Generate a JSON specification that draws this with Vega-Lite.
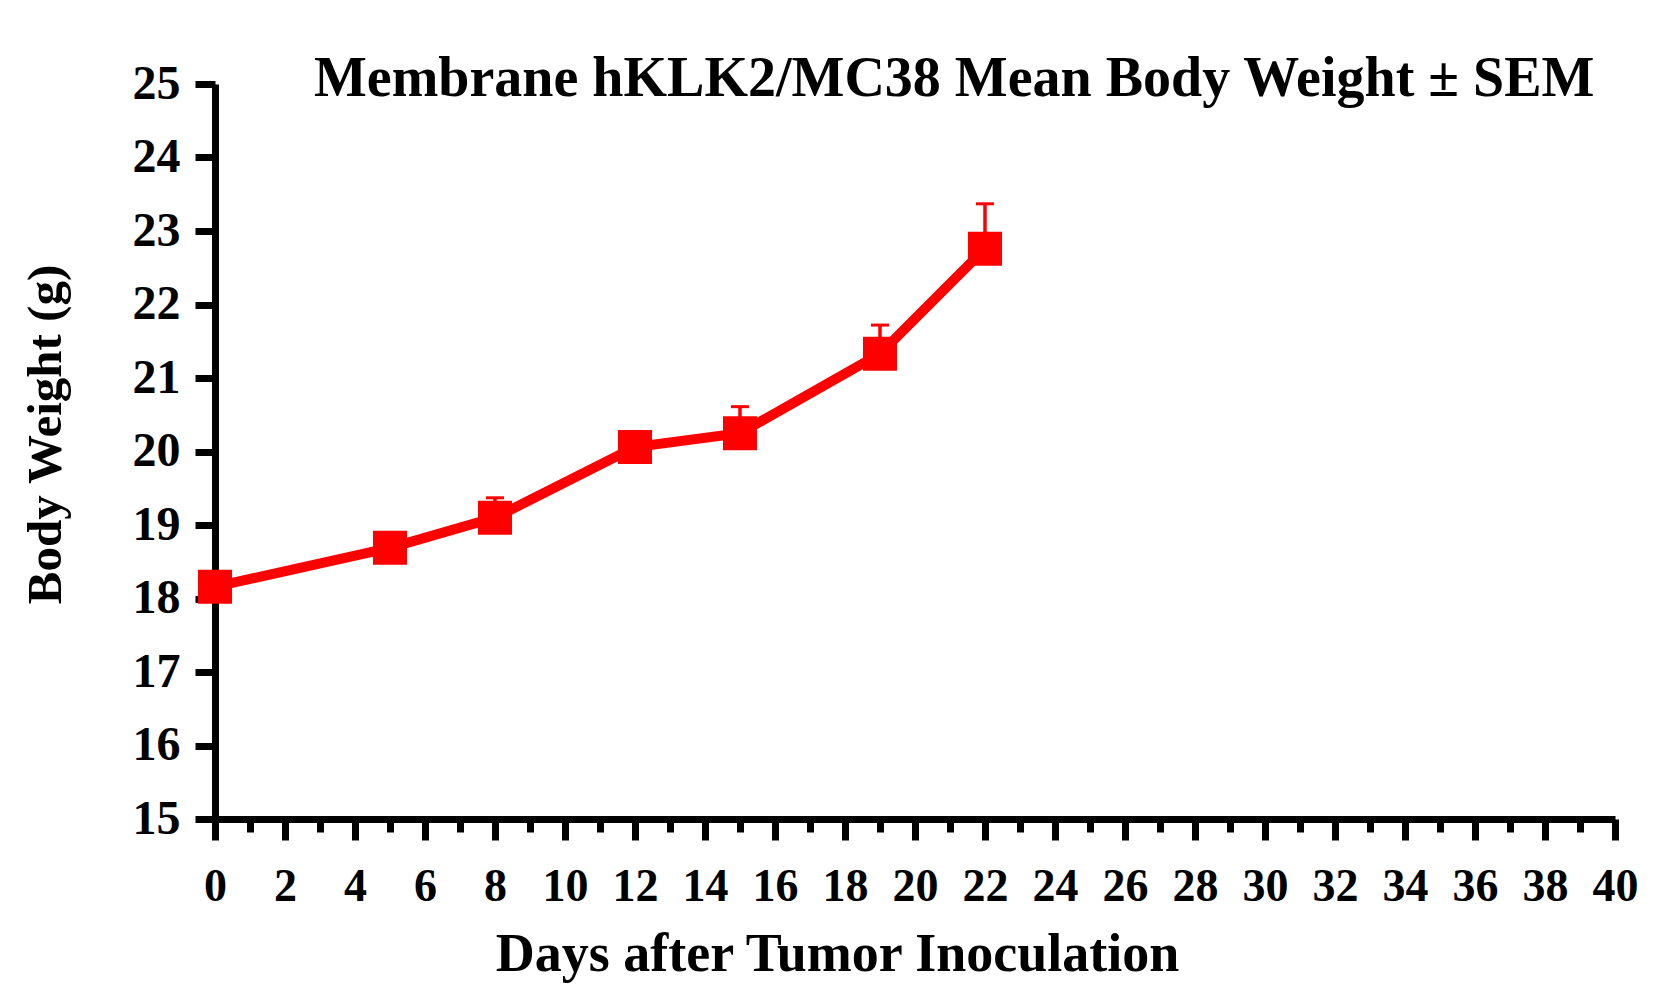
{
  "$schema": "https://vega.github.io/schema/vega-lite/v6.json",
  "width": 1400,
  "height": 735,
  "autosize": "none",
  "padding": {"left": 215, "top": 84, "right": 63, "bottom": 175},
  "background": "white",
  "title": {
    "text": "Membrane hKLK2/MC38 Mean Body Weight ± SEM",
    "font": "Liberation Serif", "fontSize": 56, "fontWeight": "bold", "color": "black",
    "anchor": "start", "frame": "group", "dx": 99,
    "baseline": "alphabetic", "offset": -92
  },
  "data": {"values": [
    {"day": 0, "mean": 18.16, "upper": 18.3},
    {"day": 5, "mean": 18.69, "upper": 18.85},
    {"day": 8, "mean": 19.10, "upper": 19.37},
    {"day": 12, "mean": 20.06, "upper": 20.2},
    {"day": 15, "mean": 20.25, "upper": 20.61},
    {"day": 19, "mean": 21.33, "upper": 21.72},
    {"day": 22, "mean": 22.76, "upper": 23.37}
  ]},
  "encoding": {
    "x": {
      "field": "day", "type": "quantitative",
      "scale": {"domain": [0, 40], "nice": false, "zero": false},
      "axis": {
        "values": [0,1,2,3,4,5,6,7,8,9,10,11,12,13,14,15,16,17,18,19,20,21,22,23,24,25,26,27,28,29,30,31,32,33,34,35,36,37,38,39,40],
        "labelExpr": "datum.value % 2 ? '' : datum.label",
        "tickSize": {"condition": {"test": "datum.value % 2 === 1", "value": 13}, "value": 21},
        "labelFontSize": 46, "labelBaseline": "alphabetic", "labelPadding": 60,
        "labelFlush": false, "labelOverlap": false,
        "title": "Days after Tumor Inoculation", "titleFontSize": 54,
        "titleX": 622, "titleY": 151, "titleAlign": "center", "titleBaseline": "alphabetic"
      }
    },
    "y": {
      "field": "mean", "type": "quantitative",
      "scale": {"domain": [15, 25], "nice": false, "zero": false},
      "axis": {
        "values": [15,16,17,18,19,20,21,22,23,24,25],
        "tickSize": 20, "labelFontSize": 48, "labelPadding": 15,
        "labelBaseline": "middle", "labelFlush": false, "labelOverlap": false,
        "title": "Body Weight (g)", "titleFontSize": 49,
        "titleX": -155, "titleY": 350, "titleAlign": "center", "titleBaseline": "alphabetic"
      }
    }
  },
  "layer": [
    {"mark": {"type": "rule", "color": "#ff0000", "strokeWidth": 3.5},
     "encoding": {"y2": {"field": "upper"}}},
    {"mark": {"type": "tick", "orient": "horizontal", "color": "#ff0000", "size": 18, "thickness": 3, "opacity": 1},
     "encoding": {"y": {"field": "upper", "type": "quantitative", "title": "Body Weight (g)"}}},
    {"mark": {"type": "line", "color": "#ff0000", "strokeWidth": 10}},
    {"mark": {"type": "square", "color": "#ff0000", "filled": true, "size": 1156, "opacity": 1}}
  ],
  "config": {
    "view": {"stroke": null},
    "axis": {
      "grid": false,
      "domainColor": "black", "domainWidth": 7,
      "tickColor": "black", "tickWidth": 7,
      "labelFont": "Liberation Serif", "labelFontWeight": "bold", "labelColor": "black",
      "titleFont": "Liberation Serif", "titleFontWeight": "bold", "titleColor": "black"
    }
  }
}
